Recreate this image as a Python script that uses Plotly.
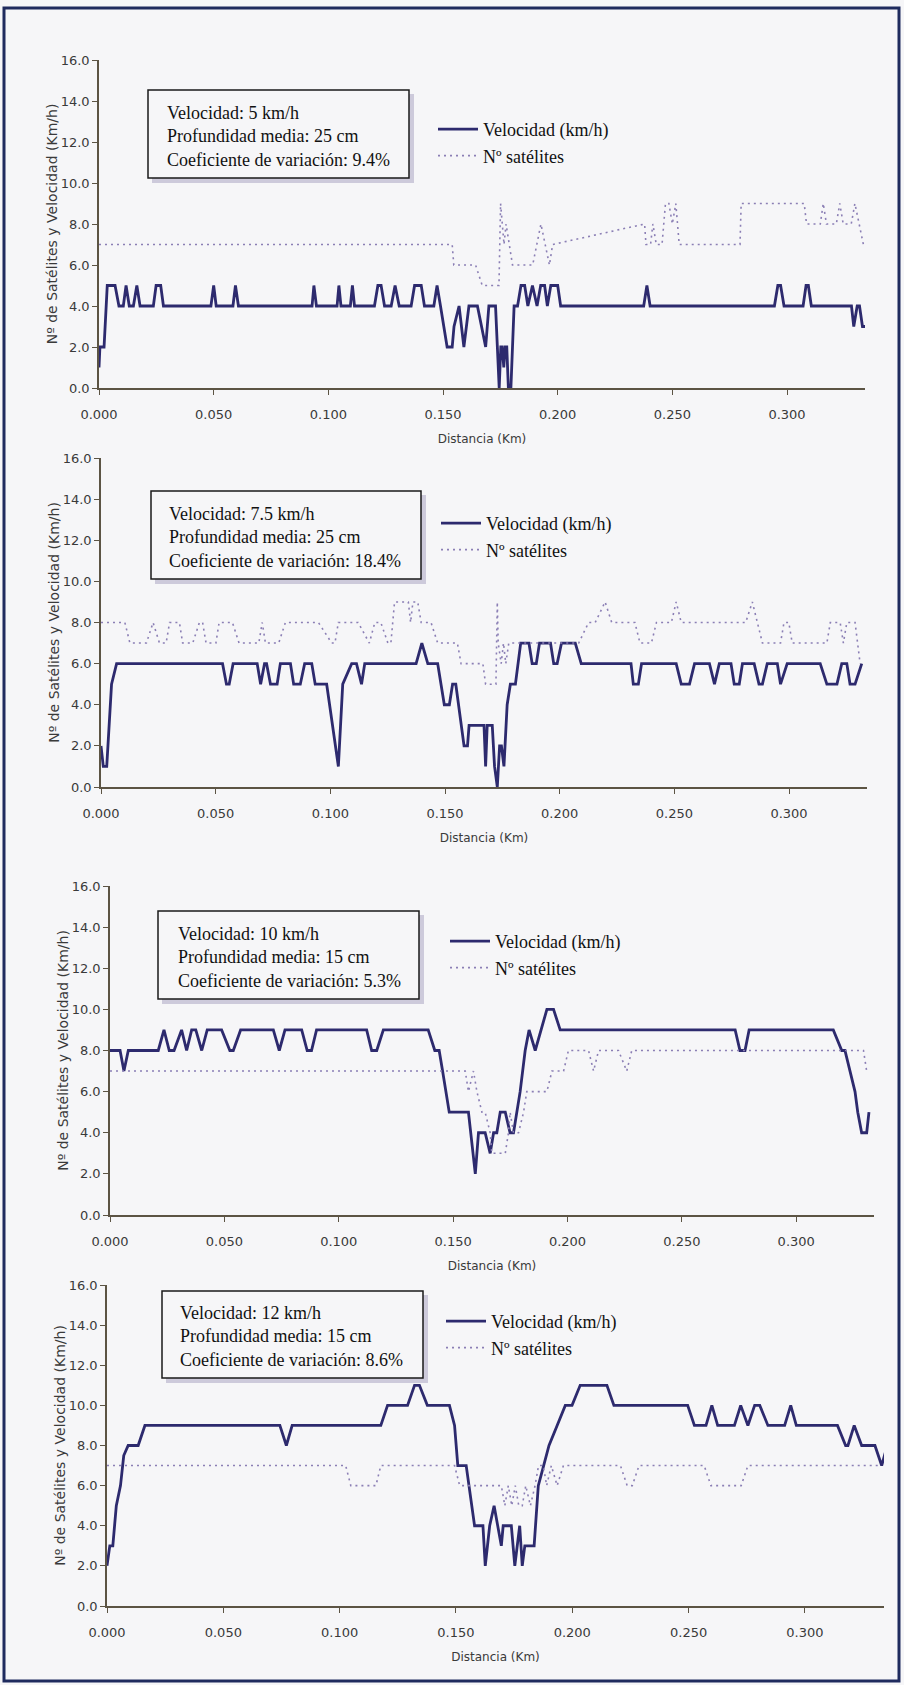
import plotly.graph_objects as go

W, H = 904, 1685

# ---------------- DATA ----------------
# Panel 1: 5 km/h
p1_vel_x = [0.0, 0.0004, 0.0022, 0.0036, 0.007, 0.0087, 0.0106, 0.0118, 0.0132, 0.015, 0.0165, 0.0179,
            0.0237, 0.0249, 0.0269, 0.0281, 0.0488, 0.05, 0.0511, 0.0584, 0.0595, 0.0608, 0.0929, 0.0937,
            0.0948, 0.1038, 0.1046, 0.1055, 0.1096, 0.1105, 0.1114, 0.1201, 0.1216, 0.123, 0.1245, 0.1274,
            0.1291, 0.1309, 0.1361, 0.1376, 0.1405, 0.1419, 0.146, 0.1474, 0.1489, 0.1518, 0.154, 0.1548,
            0.157, 0.1591, 0.1613, 0.165, 0.1686, 0.17, 0.1729, 0.1745, 0.1752, 0.1758, 0.1765, 0.1771,
            0.1778, 0.1785, 0.1796, 0.181, 0.1825, 0.184, 0.1856, 0.187, 0.189, 0.191, 0.1926, 0.1943,
            0.1955, 0.197, 0.2, 0.2013, 0.2375, 0.2389, 0.2403, 0.2945, 0.296, 0.2972, 0.2987, 0.307,
            0.3083, 0.3093, 0.3106, 0.3281, 0.3291, 0.3306, 0.3316, 0.3329, 0.3346]
p1_vel_y = [1, 2, 2, 5, 5, 4, 4, 5, 4, 4, 5, 4,
            4, 5, 5, 4, 4, 5, 4, 4, 5, 4, 4, 5,
            4, 4, 5, 4, 4, 5, 4, 4, 5, 5, 4, 4,
            5, 4, 4, 5, 5, 4, 4, 5, 4, 2, 2, 3,
            4, 2, 4, 4, 2, 4, 4, 0, 2, 2, 1, 2,
            2, 0, 0, 4, 4, 5, 5, 4, 5, 4, 5, 5,
            4, 5, 5, 4, 4, 5, 4, 4, 5, 5, 4, 4,
            5, 5, 4, 4, 3, 4, 4, 3, 3]
p1_sat_x = [0.0, 0.154, 0.1547, 0.1642, 0.1671, 0.1744, 0.1751, 0.1757, 0.1766, 0.1775, 0.1803, 0.1891,
            0.1927, 0.1964, 0.1978, 0.2379, 0.2385, 0.2405, 0.2415, 0.243, 0.2455, 0.247, 0.2485, 0.25,
            0.2515, 0.253, 0.2795, 0.28, 0.3075, 0.3085, 0.3145, 0.3158, 0.3172, 0.3215, 0.323, 0.3245,
            0.328, 0.3296, 0.3333]
p1_sat_y = [7, 7, 6, 6, 5, 5, 9, 8, 7, 8, 6, 6,
            8, 6, 7, 8, 7, 7, 8, 7, 7, 9, 9, 8,
            9, 7, 7, 9, 9, 8, 8, 9, 8, 8, 9, 8,
            8, 9, 7]

# Panel 2: 7.5 km/h
p2_vel_x = [0.0, 0.001, 0.0025, 0.0046, 0.0068, 0.053, 0.0547, 0.0559, 0.0576, 0.0681, 0.0696, 0.0713,
            0.0722, 0.0739, 0.0768, 0.0782, 0.0826, 0.084, 0.0869, 0.0888, 0.0919, 0.0934, 0.0984, 0.1035,
            0.1054, 0.1093, 0.1114, 0.1136, 0.115, 0.1374, 0.1399, 0.1425, 0.1468, 0.1497, 0.1519, 0.1533,
            0.1547, 0.1569, 0.1583, 0.1598, 0.1605, 0.167, 0.1677, 0.1684, 0.1706, 0.1716, 0.1728, 0.1738,
            0.1746, 0.1757, 0.1771, 0.1785, 0.1807, 0.183, 0.1866, 0.188, 0.1898, 0.1912, 0.196, 0.1974,
            0.1989, 0.2008, 0.2068, 0.2094, 0.2311, 0.2321, 0.2343, 0.2357, 0.2508, 0.253, 0.2566, 0.2588,
            0.2653, 0.2675, 0.2696, 0.2747, 0.2761, 0.2783, 0.2797, 0.2848, 0.2869, 0.2884, 0.2905, 0.2949,
            0.2963, 0.2992, 0.3136, 0.3165, 0.3209, 0.323, 0.3252, 0.3266, 0.3288, 0.3317]
p2_vel_y = [2, 1, 1, 5, 6, 6, 5, 5, 6, 6, 5, 6,
            6, 5, 5, 6, 6, 5, 5, 6, 6, 5, 5, 1,
            5, 6, 6, 5, 6, 6, 7, 6, 6, 4, 4, 5,
            5, 3, 2, 2, 3, 3, 1, 3, 3, 1, 0, 2,
            2, 1, 4, 5, 5, 7, 7, 6, 6, 7, 7, 6,
            6, 7, 7, 6, 6, 5, 5, 6, 6, 5, 5, 6,
            6, 5, 6, 6, 5, 5, 6, 6, 5, 5, 6, 6,
            5, 6, 6, 5, 5, 6, 6, 5, 5, 6]
p2_sat_x = [0.0, 0.0104, 0.0126, 0.0198, 0.0227, 0.0255, 0.0284, 0.0299, 0.0342, 0.0356, 0.04, 0.0429,
            0.0443, 0.0458, 0.0501, 0.0515, 0.0573, 0.0602, 0.0688, 0.0703, 0.0717, 0.0775, 0.0804, 0.0948,
            0.1006, 0.102, 0.1035, 0.1121, 0.117, 0.1194, 0.122, 0.1251, 0.1264, 0.128, 0.134, 0.135,
            0.136, 0.1381, 0.1396, 0.1439, 0.1468, 0.1554, 0.157, 0.1665, 0.1677, 0.1722, 0.1728, 0.1732,
            0.1745, 0.1755, 0.1765, 0.1778, 0.2083, 0.2126, 0.2155, 0.2198, 0.2227, 0.2328, 0.235, 0.24,
            0.2422, 0.2487, 0.2508, 0.253, 0.2811, 0.284, 0.2862, 0.2884, 0.2963, 0.2978, 0.2999, 0.3014,
            0.3165, 0.318, 0.3223, 0.3237, 0.3252, 0.3288, 0.331]
p2_sat_y = [8, 8, 7, 7, 8, 7, 7, 8, 8, 7, 7, 8,
            8, 7, 7, 8, 8, 7, 7, 8, 7, 7, 8, 8,
            7, 7, 8, 8, 7, 8, 8, 7, 7, 9, 9, 8,
            9, 9, 8, 8, 7, 7, 6, 6, 5, 5, 9, 7,
            6, 7, 6, 7, 7, 8, 8, 9, 8, 8, 7, 7,
            8, 8, 9, 8, 8, 9, 8, 7, 7, 8, 8, 7,
            7, 8, 8, 7, 8, 8, 6]

# Panel 3: 10 km/h
p3_vel_x = [0.0, 0.0044, 0.0061, 0.008, 0.0211, 0.0236, 0.0259, 0.028, 0.0313, 0.0335, 0.0357, 0.0375,
            0.0401, 0.0425, 0.0488, 0.0524, 0.0539, 0.0571, 0.0714, 0.074, 0.0765, 0.0838, 0.0862, 0.0881,
            0.0903, 0.1122, 0.1144, 0.1166, 0.1195, 0.1391, 0.142, 0.1439, 0.1454, 0.1468, 0.1483, 0.1567,
            0.1597, 0.1611, 0.164, 0.1662, 0.1677, 0.1691, 0.1706, 0.1728, 0.1749, 0.1764, 0.1793, 0.1815,
            0.1832, 0.1859, 0.191, 0.1939, 0.1968, 0.2733, 0.2754, 0.2776, 0.2794, 0.3162, 0.3199, 0.3213,
            0.3235, 0.3257, 0.3269, 0.3286, 0.3308, 0.3318]
p3_vel_y = [8, 8, 7, 8, 8, 9, 8, 8, 9, 8, 9, 9,
            8, 9, 9, 8, 8, 9, 9, 8, 9, 9, 8, 8,
            9, 9, 8, 8, 9, 9, 8, 8, 7, 6, 5, 5,
            2, 4, 4, 3, 4, 4, 5, 5, 4, 4, 6, 8,
            9, 8, 10, 10, 9, 9, 8, 8, 9, 9, 8, 8,
            7, 6, 5, 4, 4, 5]
p3_sat_x = [0.0, 0.1553, 0.1567, 0.1589, 0.1604, 0.1626, 0.164, 0.1662, 0.1669, 0.1728, 0.1742, 0.1749,
            0.1764, 0.1786, 0.1808, 0.1822, 0.191, 0.1932, 0.1983, 0.2004, 0.2092, 0.2114, 0.2136, 0.2223,
            0.2259, 0.2281, 0.3294, 0.3308]
p3_sat_y = [7, 7, 6, 7, 6, 5, 5, 4, 3, 3, 4, 5,
            4, 4, 5, 6, 6, 7, 7, 8, 8, 7, 8, 8,
            7, 8, 8, 7]

# Panel 4: 12 km/h
p4_vel_x = [0.0, 0.0012, 0.0025, 0.004, 0.0058, 0.0072, 0.0091, 0.0134, 0.0163, 0.0743, 0.0771, 0.0796,
            0.1177, 0.1206, 0.1292, 0.1322, 0.1343, 0.1377, 0.1472, 0.1494, 0.1508, 0.1544, 0.158, 0.1616,
            0.1626, 0.1645, 0.1664, 0.1695, 0.1703, 0.1738, 0.1753, 0.1774, 0.1785, 0.1796, 0.1836, 0.1854,
            0.1877, 0.19, 0.1935, 0.197, 0.1999, 0.2034, 0.2149, 0.2179, 0.2496, 0.2525, 0.2575, 0.26,
            0.2625, 0.2697, 0.2724, 0.2755, 0.2784, 0.2806, 0.2841, 0.2913, 0.2939, 0.2963, 0.314, 0.3175,
            0.3185, 0.3212, 0.3244, 0.3301, 0.333, 0.3354]
p4_vel_y = [2, 3, 3, 5, 6, 7.5, 8, 8, 9, 9, 8, 9,
            9, 10, 10, 11, 11, 10, 10, 9, 7, 7, 4, 4,
            2, 4, 5, 3, 4, 4, 2, 4, 2, 3, 3, 6,
            7, 8, 9, 10, 10, 11, 11, 10, 10, 9, 9, 10,
            9, 9, 10, 9, 10, 10, 9, 9, 10, 9, 9, 8,
            8, 9, 8, 8, 7, 8]
p4_sat_x = [0.0, 0.1026, 0.1048, 0.1156, 0.1177, 0.1494, 0.1516, 0.1695, 0.171, 0.1725, 0.174, 0.1755,
            0.177, 0.1785, 0.18, 0.182, 0.184, 0.1855, 0.1875, 0.189, 0.191, 0.1935, 0.1962, 0.2207,
            0.2236, 0.2258, 0.2287, 0.2567, 0.2596, 0.2726, 0.2755, 0.333]
p4_sat_y = [7, 7, 6, 6, 7, 7, 6, 6, 5, 6, 5, 6,
            5, 5, 6, 5, 6, 7, 7, 6, 7, 6, 7, 7,
            6, 6, 7, 7, 6, 6, 7, 7]

box_texts = [
    "Velocidad: 5 km/h<br>Profundidad media: 25 cm<br>Coeficiente de variación: 9.4%",
    "Velocidad: 7.5 km/h<br>Profundidad media: 25 cm<br>Coeficiente de variación: 18.4%",
    "Velocidad: 10 km/h<br>Profundidad media: 15 cm<br>Coeficiente de variación: 5.3%",
    "Velocidad: 12 km/h<br>Profundidad media: 15 cm<br>Coeficiente de variación: 8.6%",
]
vel_name = "Velocidad (km/h)"
sat_name = "Nº satélites"
y_title = "Nº de Satélites y Velocidad (Km/h)"
x_title = "Distancia (Km)"

# ---------------- LAYOUT (pixel geometry) ----------------
def fx(px):
    return px / W

def fy(py):
    return 1 - py / H

panels = [
    dict(xl=99, xr=865, y0=388, y16=60, box=(148, 90, 409, 178), tx=165, leg=(433, 111)),
    dict(xl=101, xr=867, y0=787, y16=458, box=(151, 491, 421, 579), tx=167, leg=(436, 505)),
    dict(xl=110, xr=874, y0=1215, y16=886, box=(158, 911, 419, 999), tx=176, leg=(445, 923)),
    dict(xl=107, xr=884, y0=1606, y16=1285, box=(162, 1291, 423, 1378), tx=178, leg=(441, 1303)),
]
series = [
    (p1_vel_x, p1_vel_y, p1_sat_x, p1_sat_y),
    (p2_vel_x, p2_vel_y, p2_sat_x, p2_sat_y),
    (p3_vel_x, p3_vel_y, p3_sat_x, p3_sat_y),
    (p4_vel_x, p4_vel_y, p4_sat_x, p4_sat_y),
]

BG = "#f6f6f8"
VEL_COLOR = "#2d2a6e"
SAT_COLOR = "#8b7fb5"
AX_COLOR = "#5c5444"
TICK_FONT = dict(family="DejaVu Sans", size=13, color="#3a3a3a")
SERIF = "Liberation Serif"

fig = go.Figure()
layout = dict(
    width=W, height=H,
    margin=dict(l=0, r=0, t=0, b=0),
    paper_bgcolor=BG, plot_bgcolor=BG,
    showlegend=True,
    shapes=[], annotations=[],
)

for i, (p, (vx, vy, sx, sy)) in enumerate(zip(panels, series)):
    n = "" if i == 0 else str(i + 1)
    xa, ya = "x" + n, "y" + n
    lg = "legend" + n
    fig.add_trace(go.Scatter(x=vx, y=vy, mode="lines", name=vel_name,
                             line=dict(color=VEL_COLOR, width=2.8),
                             xaxis=xa, yaxis=ya, legend=lg, hoverinfo="skip"))
    fig.add_trace(go.Scatter(x=sx, y=sy, mode="lines", name=sat_name,
                             line=dict(color=SAT_COLOR, width=1.6, dash="2px,4px"),
                             xaxis=xa, yaxis=ya, legend=lg, hoverinfo="skip"))
    layout["xaxis" + n] = dict(
        domain=[fx(p["xl"]), fx(p["xr"])], range=[0, 0.334], anchor=ya,
        showgrid=False, zeroline=False, showline=True, linecolor=AX_COLOR, linewidth=1.5,
        ticks="outside", ticklen=5, tickcolor=AX_COLOR, tickwidth=1.2,
        tickmode="linear", tick0=0, dtick=0.05, tickformat=".3f",
        tickfont=TICK_FONT, ticklabelstandoff=9,
        title=dict(text=x_title, font=dict(family="DejaVu Sans", size=12, color="#3a3a3a"), standoff=13),
        automargin=False, fixedrange=True,
    )
    layout["yaxis" + n] = dict(
        domain=[fy(p["y0"]), fy(p["y16"])], range=[0, 16], anchor=xa,
        showgrid=False, zeroline=False, showline=True, linecolor=AX_COLOR, linewidth=1.5,
        ticks="outside", ticklen=5, tickcolor=AX_COLOR, tickwidth=1.2,
        tickmode="linear", tick0=0, dtick=2, tickformat=".1f",
        tickfont=TICK_FONT,
        title=dict(text=y_title, font=dict(family="DejaVu Sans", size=14, color="#3a3a3a"), standoff=0),
        automargin=False, fixedrange=True,
    )
    layout[lg] = dict(
        x=fx(p["leg"][0]), y=fy(p["leg"][1]), xanchor="left", yanchor="top",
        bgcolor="rgba(0,0,0,0)", borderwidth=0, itemwidth=40,
        font=dict(family=SERIF, size=18, color="#111111"),
        tracegroupgap=0,
    )
    x0, y0, x1, y1 = p["box"]
    layout["shapes"].append(dict(type="rect", xref="paper", yref="paper",
                                 x0=fx(x0 + 4), x1=fx(x1 + 5), y0=fy(y1 + 5), y1=fy(y0 + 4),
                                 fillcolor="rgba(130,120,165,0.35)", line=dict(width=0), layer="above"))
    layout["shapes"].append(dict(type="rect", xref="paper", yref="paper",
                                 x0=fx(x0), x1=fx(x1), y0=fy(y1), y1=fy(y0),
                                 fillcolor=BG, line=dict(color="#1a1a1a", width=1.5), layer="above"))
    layout["annotations"].append(dict(
        xref="paper", yref="paper", x=fx(p["tx"]), y=fy((y0 + y1) / 2 + 2),
        xanchor="left", yanchor="middle", align="left", showarrow=False,
        text=box_texts[i], font=dict(family=SERIF, size=18, color="#111111"),
    ))

layout["shapes"].append(dict(type="rect", xref="paper", yref="paper",
                             x0=fx(4), x1=fx(899), y0=fy(1681), y1=fy(8),
                             line=dict(color="#1f2b5e", width=3), fillcolor="rgba(0,0,0,0)", layer="below"))

fig.update_layout(**layout)
fig.write_html("out.html", config={"displayModeBar": False},
               post_script="document.body.style.margin='0';document.body.style.overflow='hidden';")
